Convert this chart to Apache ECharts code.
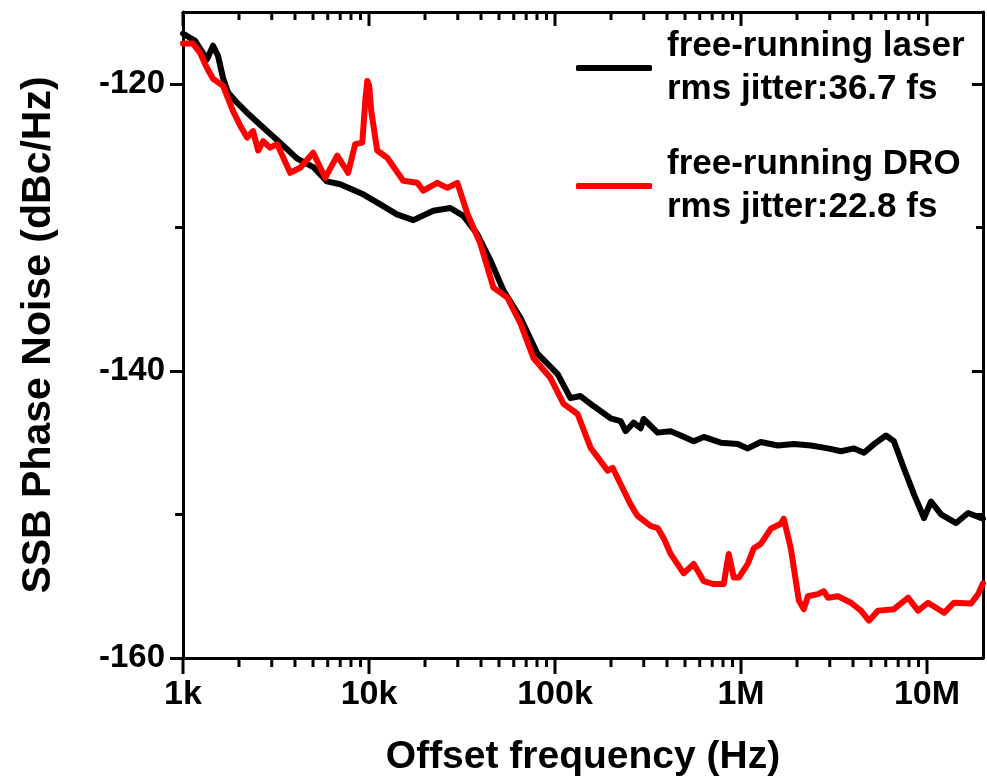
<!DOCTYPE html>
<html>
<head>
<meta charset="utf-8">
<script src="https://cdn.jsdelivr.net/npm/echarts@6/dist/echarts.min.js"></script>
<style>
  html, body { margin: 0; padding: 0; background: #fff; }
  #chart { width: 987px; height: 783px; }
</style>
</head>
<body>
<div id="chart"></div>
<script>
// Offset frequency (Hz) and SSB phase noise (dBc/Hz) of the free-running laser
const laserFreq = [1000,1091,1160,1346,1450,1542,1642,1747,1946,2203,2697,3327,4093,5012,5937,6998,9311,11500,14130,17310,22180,27360,32150,38100,44980,52840,65200,80500,103100,121100,137000,161000,199000,225400,239900,264900,288600,299500,356200,418600,474100,557100,630100,778000,961000,1087000,1277000,1577000,1923000,2376000,2934000,3446000,4049000,4584000,5190000,6015000,6640000,7519000,8511000,9637000,10510000,11900000,14330000,16630000,20000000];
const laserPN = [-116.5,-116.8,-117.0,-118.3,-117.35,-118.05,-119.6,-120.6,-121.3,-122.0,-123.05,-124.1,-125.2,-125.8,-126.8,-127.0,-127.7,-128.4,-129.1,-129.5,-128.85,-128.65,-129.2,-130.45,-132.3,-134.4,-136.3,-138.8,-140.2,-141.9,-141.75,-142.45,-143.3,-143.5,-144.2,-143.6,-144.0,-143.35,-144.3,-144.2,-144.5,-144.9,-144.6,-145.0,-145.1,-145.4,-144.95,-145.2,-145.1,-145.2,-145.4,-145.6,-145.4,-145.7,-145.1,-144.5,-144.9,-146.8,-148.6,-150.25,-149.1,-150.0,-150.6,-149.9,-150.3];

// Free-running DRO
const droFreq = [1000,1132,1235,1346,1450,1642,1858,2028,2211,2382,2535,2697,2939,3206,3767,4266,5012,5812,6745,7726,8433,9204,9549,9786,10030,10280,11070,12530,15280,18190,19590,23290,26370,29850,33810,39720,46670,55460,65200,76560,94600,111200,132200,155300,191800,204100,225400,254800,277700,326300,356200,383700,418600,491800,557100,630100,713000,807200,859000,914100,972800,1087000,1172000,1277000,1445000,1637000,1698000,1852000,2046000,2177000,2287000,2588000,2788000,2934000,3319000,3898000,4412000,4874000,5447000,6640000,7902000,8951000,10120000,12350000,13970000,17260000,18830000,20000000];
const droPN = [-117.2,-117.2,-117.85,-118.9,-119.65,-120.15,-121.9,-122.9,-123.75,-123.3,-124.65,-124.0,-124.45,-124.2,-126.2,-125.85,-124.8,-126.55,-125.0,-126.2,-124.2,-124.1,-121.2,-119.8,-120.15,-121.9,-124.65,-125.15,-126.75,-126.9,-127.45,-126.9,-127.25,-126.9,-129.05,-131.15,-134.2,-134.9,-136.7,-139.1,-140.5,-142.3,-143.0,-145.35,-146.95,-146.75,-147.9,-149.3,-150.1,-150.8,-150.95,-151.65,-152.75,-154.1,-153.45,-154.65,-154.85,-154.85,-152.75,-154.4,-154.4,-153.45,-152.35,-152.05,-151.0,-150.65,-150.3,-152.35,-156.0,-156.6,-155.7,-155.55,-155.35,-155.8,-155.7,-156.15,-156.7,-157.4,-156.7,-156.6,-155.8,-156.7,-156.15,-156.85,-156.15,-156.2,-155.55,-154.8];

const seriesNames = ['free-running laser\nrms jitter:36.7 fs', 'free-running DRO\nrms jitter:22.8 fs'];

// Axis ranges and tick values
const xRange = [1000, 20000000];
const yRange = [-160, -115];
const yMajorTicks = [-160, -140, -120];
const yMinorTicks = [-150, -130];
const xTickLabels = { 3: '1k', 4: '10k', 5: '100k', 6: '1M', 7: '10M' };
const xMajorTicks = [1000, 10000, 100000, 1000000, 10000000];
const xMinorTicks = [];
for (let dec = 1000; dec < 10000000; dec *= 10) {
  for (let k = 2; k <= 9; k++) xMinorTicks.push(k * dec);
}
const xAllTicks = xMajorTicks.concat(xMinorTicks);

const FONT = '"Liberation Sans", Arial, Helvetica, sans-serif';
const axisLineStyle = { color: '#000', width: 3 };

function pairs(xs, ys) { return xs.map((x, i) => [x, ys[i]]); }
function isDecade(v) {
  const p = Math.log10(v);
  return Math.abs(p - Math.round(p)) < 1e-6;
}
// tick length: bottom ticks point outward, top ticks point inward
function tickLen(v, edge) {
  const major = isDecade(v);
  return edge === 0 ? (major ? 16 : 9) : (major ? 14 : 8);
}

function logAxis(position, withLabels) {
  const ax = {
    type: 'log', logBase: 10, min: xRange[0], max: xRange[1], position: position,
    axisLine: { show: true, onZero: false, lineStyle: axisLineStyle },
    axisTick: { show: false },
    axisLabel: { show: false },
    splitLine: { show: false }
  };
  if (withLabels) {
    ax.axisLabel = {
      show: true, color: '#000', fontFamily: FONT, fontWeight: 'bold', fontSize: 34, margin: 20,
      formatter: function (v) {
        const r = Math.round(Math.log10(v));
        return isDecade(v) && xTickLabels[r] ? xTickLabels[r] : '';
      }
    };
    ax.name = 'Offset frequency (Hz)';
    ax.nameLocation = 'middle';
    ax.nameGap = 80;
    ax.nameTextStyle = { color: '#000', fontFamily: FONT, fontWeight: 'bold', fontSize: 39 };
  }
  return ax;
}

function valAxis(position, ticks, inside, len, showLine, withLabels) {
  const ax = {
    type: 'value', min: yRange[0], max: yRange[1], position: position,
    axisLine: { show: showLine, onZero: false, lineStyle: axisLineStyle },
    axisTick: { show: true, inside: inside, length: len, customValues: ticks, lineStyle: { color: '#000', width: 3 } },
    axisLabel: { show: false },
    splitLine: { show: false }
  };
  if (withLabels) {
    ax.axisLabel = { show: true, customValues: yMajorTicks, color: '#000', fontFamily: FONT, fontWeight: 'bold', fontSize: 33, margin: 18 };
    ax.name = 'SSB Phase Noise (dBc/Hz)';
    ax.nameLocation = 'middle';
    ax.nameGap = 124;
    ax.nameTextStyle = { color: '#000', fontFamily: FONT, fontWeight: 'bold', fontSize: 41 };
  }
  return ax;
}

const chart = echarts.init(document.getElementById('chart'));
try {
  chart.setOption({
    animation: false,
    backgroundColor: '#fff',
    grid: { left: 183, right: 4, top: 12, bottom: 125 },
    xAxis: [
      logAxis('bottom', true),
      logAxis('top', false)
    ],
    yAxis: [
      valAxis('left', yMajorTicks, false, 13, true, true),
      valAxis('left', yMinorTicks, false, 8, false, false),
      valAxis('right', yMajorTicks, true, 11, true, false),
      valAxis('right', yMinorTicks, true, 7, false, false)
    ],
    legend: {
      data: seriesNames,
      orient: 'vertical', left: 571, top: 20, itemGap: 32,
      itemWidth: 76, itemHeight: 6, icon: 'roundRect', selectedMode: false,
      textStyle: { color: '#000', fontFamily: FONT, fontWeight: 'bold', fontSize: 35, lineHeight: 43, padding: [0, 0, 0, 10] }
    },
    series: [
      {
        name: seriesNames[0], type: 'line',
        data: pairs(laserFreq, laserPN), showSymbol: false, symbol: 'none', color: '#000',
        lineStyle: { color: '#000', width: 6, join: 'round', cap: 'round' }, silent: true
      },
      {
        name: seriesNames[1], type: 'line',
        data: pairs(droFreq, droPN), showSymbol: false, symbol: 'none', color: '#ff0000',
        lineStyle: { color: '#ff0000', width: 6, join: 'round', cap: 'round' }, silent: true
      }
    ]
  });
} catch (e) { /* keep going so the frequency ticks below are still drawn */ }

// Frequency-axis ticks (decades long, 2..9 short) on the bottom and top edges,
// positioned through the chart's own log scale and added straight to the scene.
function toPixel(pt) {
  let p = null;
  try { p = chart.convertToPixel({ gridIndex: 0 }, pt); } catch (e) { p = null; }
  if (!p || isNaN(p[0]) || isNaN(p[1])) {
    try { p = chart.convertToPixel({ xAxisIndex: 0, yAxisIndex: 0 }, pt); } catch (e) { p = null; }
  }
  return p;
}
const zr = chart.getZr();
[0, 1].forEach(function (edge) {
  xAllTicks.forEach(function (v) {
    const p = toPixel([v, yRange[edge]]);
    if (!p || isNaN(p[0]) || isNaN(p[1])) return;
    zr.add(new echarts.graphic.Line({
      silent: true, z: 100,
      shape: { x1: p[0], y1: p[1], x2: p[0], y2: p[1] + tickLen(v, edge) },
      style: { stroke: '#000', lineWidth: 3 }
    }));
  });
});
zr.refresh();
</script>
</body>
</html>
